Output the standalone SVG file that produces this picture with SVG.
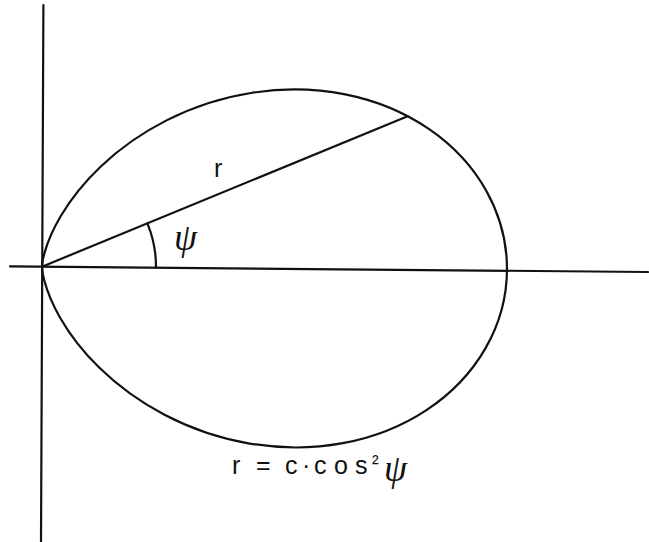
<svg xmlns="http://www.w3.org/2000/svg" width="649" height="542" viewBox="0 0 649 542">
<style>
.ln{fill:none;stroke:#111;stroke-width:2.2;stroke-linecap:round}
.sans{font-family:"Liberation Sans",Arial,sans-serif;fill:#111}
.greek{font-family:"Liberation Serif","DejaVu Serif",serif;font-style:italic;fill:#111}
</style>
<rect width="649" height="542" fill="#fff"/>
<g id="axes">
<line class="ln" x1="10" y1="266.4" x2="648" y2="272"/>
<line class="ln" x1="43.4" y1="5" x2="41" y2="542"/>
</g>
<g id="figure" transform="translate(42,266.7) rotate(0.4)">
<path id="curve" class="ln" d="M465,0 C465,-27.05 457.80,-54.08 444.13,-78.31 C430.46,-102.54 410.35,-123.94 385.84,-140.44 C361.33,-156.94 332.47,-168.52 302.03,-174.38 C271.59,-180.24 239.64,-180.36 209.03,-175.40 C178.42,-170.44 149.19,-160.40 123.50,-147.18 C97.81,-133.96 75.70,-117.59 58.13,-100.68 C40.56,-83.77 27.52,-66.37 18.60,-51.11 C9.68,-35.85 4.84,-22.78 2.43,-13.81 C0.02,-4.84 0,0 0,0 C0,0 0.02,4.84 2.43,13.81 C4.84,22.78 9.68,35.85 18.60,51.11 C27.52,66.37 40.56,83.77 58.13,100.68 C75.70,117.59 97.81,133.96 123.50,147.18 C149.19,160.40 178.42,170.44 209.03,175.40 C239.64,180.36 271.59,180.24 302.03,174.38 C332.47,168.52 361.33,156.94 385.84,140.44 C410.35,123.94 430.46,102.54 444.13,78.31 C457.80,54.08 465,27.05 465,0 Z"/>
<line id="radius" class="ln" x1="0" y1="0" x2="364.6" y2="-153.0"/>
<path id="angle-arc" class="ln" d="M105.1,-44.1 A114,114 0 0 1 114,0"/>
</g>
<g id="labels">
<text class="sans" x="214" y="177" font-size="25">r</text>
<text class="greek" x="174" y="250" font-size="37">ψ</text>
<text class="sans" y="474" font-size="25"><tspan x="232">r</tspan><tspan x="256">=</tspan><tspan x="285">c</tspan><tspan x="302">·</tspan><tspan x="314">c</tspan><tspan x="334">o</tspan><tspan x="355">s</tspan><tspan x="372" y="470" font-size="20">²</tspan><tspan class="greek" x="384" y="481" font-size="37">ψ</tspan></text>
</g>
</svg>
